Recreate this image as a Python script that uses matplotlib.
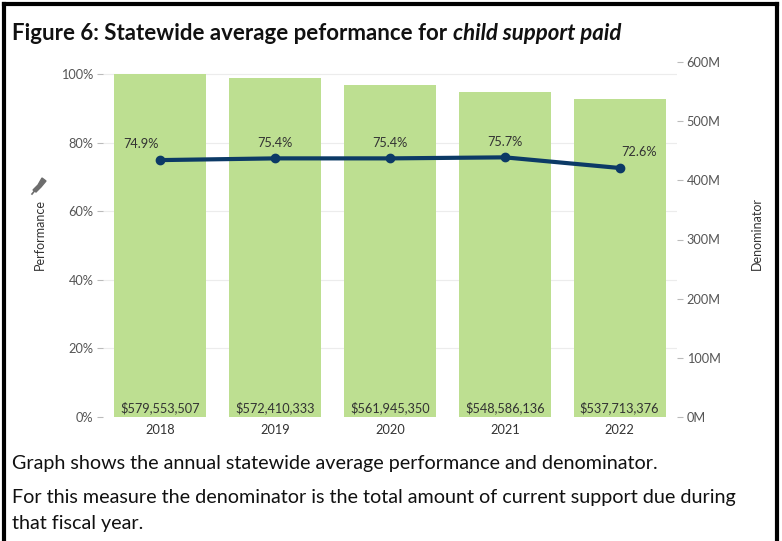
import numpy as np
import matplotlib
matplotlib.use('Agg')
import matplotlib.pyplot as plt
from matplotlib.lines import Line2D
from matplotlib.patches import Polygon
from matplotlib.ticker import FuncFormatter

years = ['2018', '2019', '2020', '2021', '2022']
performance = [0.749, 0.754, 0.754, 0.757, 0.726]
denominator = [579553507, 572410333, 561945350, 548586136, 537713376]

perf_ticks = [0.0, 0.2, 0.4, 0.6, 0.8, 1.0]
denom_ticks = [0, 100e6, 200e6, 300e6, 400e6, 500e6, 600e6]

bar_color = '#bddf91'
line_color = '#0c3a66'
text_color = '#333333'
tick_color = '#555555'

plt.rcParams['font.family'] = ['Lato', 'DejaVu Sans']

fig = plt.figure(figsize=(7.82, 5.41), dpi=100)
W, H = 782.0, 541.0

ax = fig.add_axes([103 / W, 1 - 417 / H, 574 / W, 355 / H])
axr = ax.twinx()
ax.set_zorder(axr.get_zorder() + 1)
ax.patch.set_visible(False)

x = np.arange(len(years))
perf_top = 1.035

# bars on the right (denominator) axis
axr.bar(x, denominator, width=0.8, color=bar_color, zorder=2)
axr.set_ylim(0, 600e6)
for p in perf_ticks[1:]:
    axr.axhline(p / perf_top * 600e6, color='#ececec', lw=0.8, zorder=0)
for xi, d in zip(x, denominator):
    axr.text(xi, 4e6, '${:,}'.format(d), ha='center', va='bottom',
             fontsize=9.2, color=text_color, zorder=3)

# performance line on the left axis
ax.plot(x, performance, color=line_color, lw=3, marker='o', ms=6, zorder=4)
ax.set_ylim(0, perf_top)
ax.set_xlim(-0.5, 4.5)
offsets = [(-14, 7), (0, 7), (0, 7), (0, 7), (14, 7)]
for xi, p, off in zip(x, performance, offsets):
    ax.annotate('{:.1f}%'.format(p * 100), (xi, p), xytext=off,
                textcoords='offset points', ha='center', va='bottom',
                fontsize=9.2, color=text_color)

ax.set_yticks(perf_ticks)
ax.yaxis.set_major_formatter(FuncFormatter(lambda v, pos: '{:.0f}%'.format(v * 100)))
axr.set_yticks(denom_ticks)
axr.yaxis.set_major_formatter(FuncFormatter(lambda v, pos: '{:.0f}M'.format(v / 1e6)))
ax.set_xticks(x)
ax.set_xticklabels(years)

for a in (ax, axr):
    for s in a.spines.values():
        s.set_visible(False)
ax.tick_params(axis='y', length=4, width=0.8, color='#bbbbbb', labelsize=9.2,
               labelcolor=tick_color, pad=3)
axr.tick_params(axis='y', length=4, width=0.8, color='#bbbbbb', labelsize=9.2,
                labelcolor=tick_color, pad=3)
ax.tick_params(axis='x', length=0, labelsize=9.2, labelcolor=text_color, pad=5)

fig.text(40 / W, 1 - 235 / H, 'Performance', rotation=90, ha='center', va='center',
         fontsize=9, color=text_color)
fig.text(757 / W, 1 - 234 / H, 'Denominator', rotation=90, ha='center', va='center',
         fontsize=9, color=text_color)

# small pin icon above the Performance label
pin = np.array([[33, 190], [38, 185], [42, 178], [46, 181], [41, 187], [36, 192]])
fig.add_artist(Polygon(np.column_stack([pin[:, 0] / W, 1 - pin[:, 1] / H]),
                       closed=True, color='#6d6d6d', transform=fig.transFigure))
fig.add_artist(Line2D([32 / W, 37 / W], [1 - 194 / H, 1 - 188 / H], color='#6d6d6d',
                      lw=1.2, transform=fig.transFigure))

# title
t1 = fig.text(12 / W, 1 - 33 / H, 'Figure 6: Statewide average peformance for ',
              fontsize=16, fontweight='bold', va='center', color='#111111')
fig.canvas.draw()
bb = t1.get_window_extent()
fig.text(bb.x1 / W, 1 - 33 / H, 'child support paid', fontsize=16, fontweight='bold',
         fontstyle='italic', va='center', color='#111111')

# caption
fig.text(12 / W, 1 - 463 / H,
         'Graph shows the annual statewide average performance and denominator.',
         fontsize=14.2, va='center', color='#111111')
fig.text(12 / W, 1 - 497 / H,
         'For this measure the denominator is the total amount of current support due during',
         fontsize=14.2, va='center', color='#111111')
fig.text(12 / W, 1 - 523 / H, 'that fiscal year.', fontsize=14.2, va='center',
         color='#111111')

# frame
fig.add_artist(Line2D([4 / W, 4 / W], [0, 1 - 4 / H], color='black', lw=3,
                      transform=fig.transFigure))
fig.add_artist(Line2D([4 / W, 777 / W], [1 - 4 / H, 1 - 4 / H], color='black', lw=3,
                      transform=fig.transFigure))
fig.add_artist(Line2D([777 / W, 777 / W], [0, 1 - 4 / H], color='black', lw=3,
                      transform=fig.transFigure))

fig.savefig('out.png', dpi=100)
